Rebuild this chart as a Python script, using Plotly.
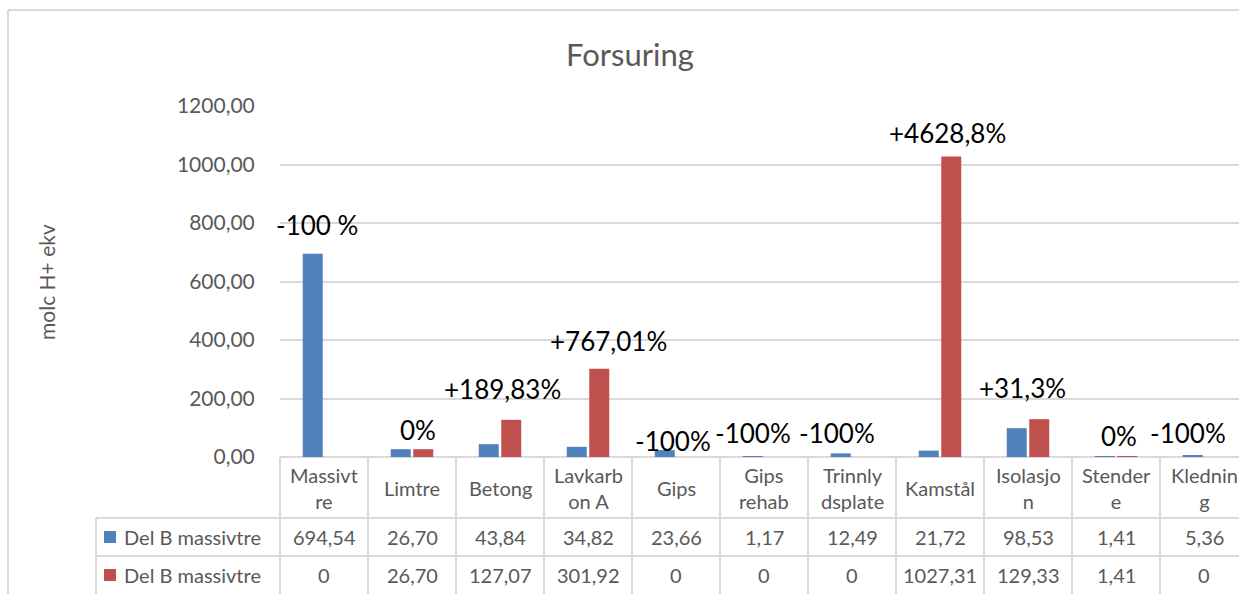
import plotly.graph_objects as go

# ---------------- data ----------------
categories = ["Massivtre", "Limtre", "Betong", "Lavkarbon A", "Gips", "Gips rehab",
              "Trinnlydsplate", "Kamstål", "Isolasjon", "Stendere", "Kledning"]
header_labels = ["Massivt<br>re", "Limtre", "Betong", "Lavkarb<br>on A", "Gips", "Gips<br>rehab",
                 "Trinnly<br>dsplate", "Kamstål", "Isolasjo<br>n", "Stender<br>e", "Klednin<br>g"]
series_names = ["Del B massivtre", "Del B massivtre"]
blue_values = [694.54, 26.70, 43.84, 34.82, 23.66, 1.17, 12.49, 21.72, 98.53, 1.41, 5.36]
red_values = [0, 26.70, 127.07, 301.92, 0, 0, 0, 1027.31, 129.33, 1.41, 0]
change_labels = ["-100 %", "0%", "+189,83%", "+767,01%", "-100%", "-100%", "-100%",
                 "+4628,8%", "+31,3%", "0%", "-100%"]
y_ticks = [0, 200, 400, 600, 800, 1000, 1200]

# label placement (layout: category offset, height in axis units)
label_dx = [-0.08, 0.07, 0.03, 0.23, -0.03, -0.125, -0.17, 0.09, -0.06, 0.03, -0.18]
label_y = [793, 92, 232, 397, 55, 82, 82, 1108, 236, 72, 82]

# ---------------- styling ----------------
BLUE = "#4f81bd"
RED = "#c0504d"
GRID = "#d9d9d9"
TXT = "#595959"
FONT = "Lato"

W, H = 1239, 594
L, T = 280, 106
PW, PH = 959, 351
n = len(categories)
cat_px = 88.0
xmin = -0.5
xmax = xmin + PW / cat_px


def fmt(v):
    if v == 0:
        return "0"
    return f"{v:.2f}".replace(".", ",")


def px_x(px):
    return (px - L) / PW


def px_y(py):
    return (T + PH - py) / PH


fig = go.Figure()
fig.add_trace(go.Bar(x=list(range(n)), y=blue_values, name=series_names[0],
                     marker=dict(color=BLUE, line=dict(width=0))))
fig.add_trace(go.Bar(x=list(range(n)), y=red_values, name=series_names[1],
                     marker=dict(color=RED, line=dict(width=0))))

shapes = []
line_style = dict(color=GRID, width=2)
# outer chart frame
shapes.append(dict(type="line", xref="paper", yref="paper", x0=px_x(8), x1=px_x(8),
                   y0=px_y(10), y1=px_y(600), line=line_style, layer="below"))
shapes.append(dict(type="line", xref="paper", yref="paper", x0=px_x(8), x1=px_x(1245),
                   y0=px_y(10), y1=px_y(10), line=line_style, layer="below"))
# table horizontal lines
for py in (518, 556):
    shapes.append(dict(type="line", xref="paper", yref="paper", x0=px_x(96), x1=px_x(1245),
                       y0=px_y(py), y1=px_y(py), line=line_style))
# table vertical lines
shapes.append(dict(type="line", xref="paper", yref="paper", x0=px_x(96), x1=px_x(96),
                   y0=px_y(518), y1=px_y(600), line=line_style))
for i in range(n + 1):
    xp = (i - 0.5 - xmin) / (xmax - xmin)
    if xp > 1.0:
        continue
    shapes.append(dict(type="line", xref="paper", yref="paper", x0=xp, x1=xp,
                       y0=px_y(T + PH), y1=px_y(600), line=line_style))
# legend keys
key_colors = [BLUE, RED]
row_centers = [537, 575]
for c, yc in zip(key_colors, row_centers):
    shapes.append(dict(type="rect", xref="paper", yref="paper",
                       x0=px_x(104), x1=px_x(116), y0=px_y(yc - 6), y1=px_y(yc + 6),
                       fillcolor=c, line=dict(width=0)))

annotations = []
# header labels
for i, lab in enumerate(header_labels):
    annotations.append(dict(x=i, y=px_y(488), xref="x", yref="paper", text=lab,
                            showarrow=False, font=dict(family=FONT, size=20, color=TXT),
                            xanchor="center", yanchor="middle", align="center"))
# value rows
for series, yc in zip([blue_values, red_values], row_centers):
    for i, v in enumerate(series):
        annotations.append(dict(x=i, y=px_y(yc), xref="x", yref="paper", text=fmt(v),
                                showarrow=False, font=dict(family=FONT, size=20, color=TXT),
                                xanchor="center", yanchor="middle"))
# legend text
for name, yc in zip(series_names, row_centers):
    annotations.append(dict(x=px_x(122), y=px_y(yc), xref="paper", yref="paper", text=name,
                            showarrow=False, font=dict(family=FONT, size=20, color=TXT),
                            xanchor="left", yanchor="middle"))
# change labels
for i, (t, dx, yv) in enumerate(zip(change_labels, label_dx, label_y)):
    annotations.append(dict(x=i + dx, y=yv, xref="x", yref="y", text=t, showarrow=False,
                            font=dict(family=FONT, size=26, color="black"),
                            xanchor="center", yanchor="middle"))
# y axis title
annotations.append(dict(x=px_x(46), y=px_y(282), xref="paper", yref="paper",
                        text="molc H+ ekv", textangle=-90, showarrow=False,
                        font=dict(family=FONT, size=21, color=TXT),
                        xanchor="center", yanchor="middle"))

fig.update_layout(
    width=W, height=H,
    margin=dict(l=L, r=W - L - PW, t=T, b=H - T - PH, pad=0),
    paper_bgcolor="white", plot_bgcolor="white",
    separators=", ",
    barmode="group", bargap=0.489, bargroupgap=0.111,
    showlegend=False,
    title=dict(text="Forsuring", x=630 / W, xref="container", xanchor="center",
               y=1 - 55 / H, yref="container", yanchor="middle",
               font=dict(family=FONT, size=31, color=TXT)),
    xaxis=dict(range=[xmin, xmax], showticklabels=False, showgrid=False, zeroline=False,
               showline=False, ticks=""),
    yaxis=dict(range=[0, 1200], tickvals=y_ticks, tickformat=".2f",
               showgrid=True, gridcolor=GRID, gridwidth=2, zeroline=True,
               zerolinecolor=GRID, zerolinewidth=2, showline=False,
               ticks="outside", ticklen=20, tickcolor="rgba(0,0,0,0)",
               tickfont=dict(family=FONT, size=21, color=TXT)),
    shapes=shapes, annotations=annotations,
)

fig.write_html("out.html", config={"displayModeBar": False},
               post_script="document.body.style.margin='0';document.body.style.overflow='hidden';")
